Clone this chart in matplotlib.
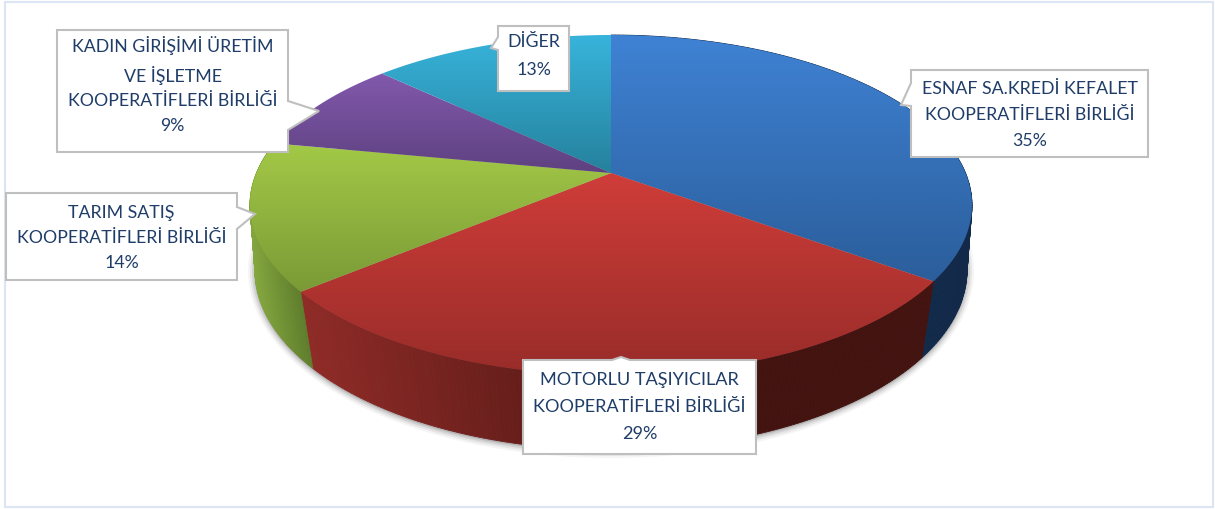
import numpy as np
import matplotlib
matplotlib.use('Agg')
import matplotlib.pyplot as plt
from matplotlib.colors import to_rgb, LinearSegmentedColormap
from matplotlib.patches import Polygon, Ellipse, Rectangle

plt.rcParams['font.family'] = ['Lato', 'DejaVu Sans']

names = ['ESNAF SA.KREDİ KEFALET\nKOOPERATİFLERİ BİRLİĞİ',
         'MOTORLU TAŞIYICILAR\nKOOPERATİFLERİ BİRLİĞİ',
         'TARIM SATIŞ\nKOOPERATİFLERİ BİRLİĞİ',
         'KADIN GİRİŞİMİ ÜRETİM\nVE İŞLETME\nKOOPERATİFLERİ BİRLİĞİ',
         'DİĞER']
shares = [35, 29, 14, 9, 13]

# top gradient, light to dark
top_colors = [('#3f82d4', '#2b5e9b'), ('#cf3d39', '#982c29'), ('#a3c947', '#7a9a36'),
              ('#8259ad', '#5e4180'), ('#38b4dc', '#25819c')]
# side colours, left to right in the picture
side_colors = [('#15304f', '#12294a'), ('#8f2b27', '#431310'), ('#84a63e', '#5f7d2d')]

# label boxes: left, top, right, bottom, then tail (base1, tip, base2)
boxes = [(911, 70, 1148, 157, (911, 83), (901, 105), (911, 106)),
         (523, 360, 756, 454, (612, 360), (621, 357), (630, 360)),
         (6, 193, 237, 280, (237, 207), (255, 214), (237, 229)),
         (57, 30, 288, 152, (288, 101), (319, 111), (288, 130)),
         (498, 26, 569, 91, (498, 37), (491, 48), (498, 50))]
text_y = [115, 407, 238, 85, 56]
text_size = [12.8, 13.1, 12.8, 12.8, 12.8]
text_gap = [1.75, 1.82, 1.68, 1.66, 1.88]

cx, top_cy, top_rx, top_ry, top_a = 611, 205, 361, 170, 0.188
bot_cy, bot_rx, bot_ry, bot_a = 270, 356, 180, 0.14


def rim(s, cy, rx, ry, a):
    # share (0-1, clockwise from 12 o'clock) to pixel, circle seen in perspective
    t = 2 * np.pi * np.asarray(s)
    X, Y = np.sin(t), np.cos(t)
    d = 1 + a * Y
    return cx + rx * X * np.sqrt(1 - a**2) / d, cy - ry * (Y + a) / d


fig = plt.figure(figsize=(12.15, 5.09), dpi=100)
ax = fig.add_axes([0, 0, 1, 1])
ax.set_xlim(0, 1215)
ax.set_ylim(509, 0)
ax.axis('off')

ax.add_patch(Rectangle((5, 1.5), 1208, 505.5, fc='white', ec='#dbe5f4', lw=1.5, zorder=0))

# soft shadow under the pie
for grow, alpha in [(7, 0.05), (5, 0.08), (3, 0.12), (1, 0.2)]:
    ax.add_patch(Ellipse((cx, bot_cy + 1), 2 * (bot_rx + grow), 2 * (bot_ry + grow),
                         fc='#404040', ec='none', alpha=alpha, zorder=1))

edges = np.cumsum([0] + shares) / sum(shares)

# side walls, thin strips so the shade can run along the rim
for i in range(3):
    s = np.linspace(edges[i], edges[i + 1], 160)
    xt, yt = rim(s, top_cy, top_rx, top_ry, top_a)
    xb, yb = rim(s, bot_cy, bot_rx, bot_ry, bot_a)
    c0, c1 = np.array(to_rgb(side_colors[i][0])), np.array(to_rgb(side_colors[i][1]))
    lo, hi = xt.min(), xt.max()
    for j in range(len(s) - 1):
        f = np.clip(((xt[j] + xt[j + 1]) / 2 - lo) / (hi - lo), 0, 1)
        if i == 1:
            f = min(f * 1.55, 1)
        c = tuple(c0 + (c1 - c0) * f)
        ax.add_patch(Polygon([(xt[j], yt[j]), (xt[j + 1], yt[j + 1]),
                              (xb[j + 1], yb[j + 1]), (xb[j], yb[j])],
                             fc=c, ec=c, lw=0.6, zorder=2))

# top faces
apex_y = top_cy - top_ry * top_a
for i in range(len(shares)):
    s = np.linspace(edges[i], edges[i + 1], 200)
    x, y = rim(s, top_cy, top_rx, top_ry, top_a)
    pts = np.column_stack([np.r_[cx, x], np.r_[apex_y, y]])
    cmap = LinearSegmentedColormap.from_list('f', top_colors[i])
    y0, y1 = pts[:, 1].min(), pts[:, 1].max()
    im = ax.imshow(np.linspace(0, 1, 256).reshape(-1, 1), cmap=cmap, aspect='auto',
                   extent=(pts[:, 0].min(), pts[:, 0].max(), y1, y0), zorder=3)
    im.set_clip_path(Polygon(pts, transform=ax.transData))
ax.set_xlim(0, 1215)
ax.set_ylim(509, 0)

# callouts
for i, b in enumerate(boxes):
    l, t, r, bt, p0, tip, p1 = b
    if tip[1] < t:           # tail on the top edge
        outline = [(l, t), p0, tip, p1, (r, t), (r, bt), (l, bt)]
    elif tip[0] > r:         # right edge
        outline = [(l, t), (r, t), p0, tip, p1, (r, bt), (l, bt)]
    else:                    # left edge
        outline = [(l, t), (r, t), (r, bt), (l, bt), p1, tip, p0]
    ax.add_patch(Polygon(outline, closed=True, fc='white', ec='#bfbfbf', lw=1.5,
                         joinstyle='miter', zorder=5))
    ax.text((l + r) / 2, text_y[i], '%s\n%d%%' % (names[i], shares[i]), ha='center', va='center',
            color='#1f3d68', fontsize=text_size[i], linespacing=text_gap[i], zorder=6)

fig.savefig('out.png', dpi=100)
